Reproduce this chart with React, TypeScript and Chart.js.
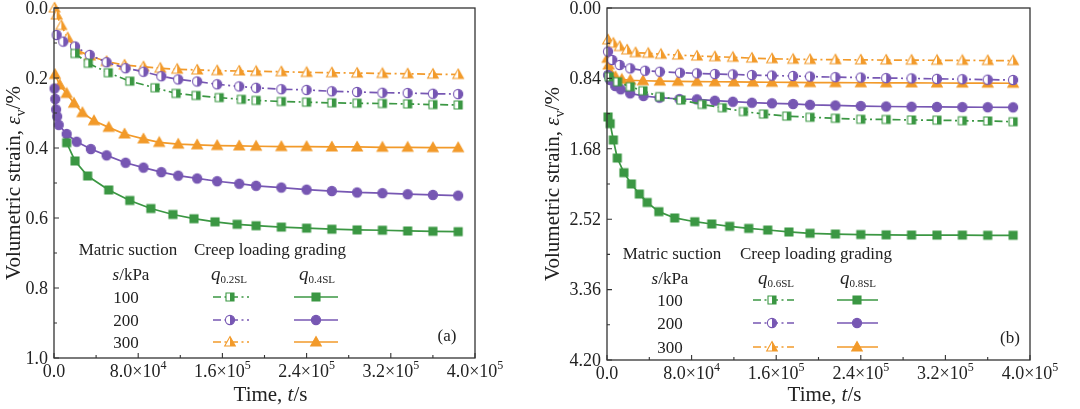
import React, { useEffect, useRef } from "react";
import { Chart, registerables } from "chart.js";
Chart.register(...registerables);

const FONT = '"Liberation Serif", "Times New Roman", serif';
const GREEN = "#3b9743";
const PURPLE = "#7757b3";
const ORANGE = "#f29a2a";
const INK = "#222";

// ---------- Panel (a) data ----------
const aTime_q02_100 = [20000, 32600, 51600, 72000, 96000, 116000, 135000, 157000, 178000, 192000, 216000, 240000, 264000, 288000, 312000, 336000, 360000, 384000];
const aStrain_q02_100 = [0.13, 0.158, 0.185, 0.209, 0.228, 0.244, 0.25, 0.256, 0.261, 0.264, 0.267, 0.269, 0.271, 0.272, 0.273, 0.274, 0.276, 0.277];
const aTime_q02_200 = [2500, 8800, 20000, 34000, 50000, 68000, 85000, 102000, 118000, 136000, 155000, 176000, 192000, 216000, 240000, 264000, 288000, 312000, 336000, 360000, 384000];
const aStrain_q02_200 = [0.077, 0.096, 0.11, 0.134, 0.155, 0.172, 0.182, 0.195, 0.204, 0.21, 0.218, 0.224, 0.228, 0.232, 0.234, 0.238, 0.24, 0.242, 0.243, 0.245, 0.246];
const aTime_q02_300 = [500, 2500, 7000, 13000, 21500, 34000, 50000, 67000, 85000, 101000, 117000, 136000, 155000, 176000, 192000, 216000, 240000, 264000, 288000, 312000, 336000, 360000, 384000];
const aStrain_q02_300 = [0.0, 0.02, 0.05, 0.085, 0.12, 0.137, 0.153, 0.163, 0.168, 0.172, 0.175, 0.177, 0.179, 0.18, 0.181, 0.182, 0.184, 0.185, 0.186, 0.187, 0.188, 0.189, 0.19];
const aTime_q04_100 = [12000, 20000, 32000, 52000, 72000, 92000, 113000, 133000, 153000, 174000, 192000, 216000, 240000, 264000, 288000, 312000, 336000, 360000, 384000];
const aStrain_q04_100 = [0.385, 0.437, 0.48, 0.52, 0.55, 0.573, 0.59, 0.602, 0.611, 0.618, 0.622, 0.626, 0.629, 0.632, 0.634, 0.635, 0.637, 0.638, 0.639];
const aTime_q04_200 = [500, 1200, 2000, 3000, 4500, 12000, 21500, 35000, 50000, 68000, 85000, 102000, 118000, 136000, 155000, 176000, 192000, 216000, 240000, 264000, 288000, 312000, 336000, 360000, 384000];
const aStrain_q04_200 = [0.23, 0.26, 0.29, 0.31, 0.334, 0.36, 0.382, 0.403, 0.421, 0.442, 0.456, 0.469, 0.479, 0.487, 0.495, 0.502, 0.508, 0.513, 0.519, 0.523, 0.527, 0.529, 0.532, 0.534, 0.536];
const aTime_q04_300 = [1000, 5500, 12000, 19000, 27000, 38000, 52000, 67000, 85000, 100000, 118000, 136000, 155000, 176000, 192000, 216000, 240000, 264000, 288000, 312000, 336000, 360000, 384000];
const aStrain_q04_300 = [0.19, 0.22, 0.244, 0.272, 0.299, 0.322, 0.341, 0.36, 0.374, 0.384, 0.389, 0.391, 0.393, 0.394, 0.395, 0.396, 0.396, 0.397, 0.397, 0.398, 0.398, 0.399, 0.399];

// ---------- Panel (b) data ----------
const bTime_q06_100 = [2000, 10000, 22000, 34000, 50000, 70000, 90000, 109000, 129000, 148000, 170000, 192000, 216000, 240000, 264000, 288000, 312000, 336000, 360000, 384000];
const bStrain_q06_100 = [0.82, 0.88, 0.939, 0.987, 1.058, 1.098, 1.15, 1.19, 1.235, 1.265, 1.29, 1.304, 1.316, 1.328, 1.33, 1.336, 1.338, 1.345, 1.348, 1.357];
const bTime_q06_200 = [1000, 5000, 12000, 22000, 36000, 50000, 69000, 85000, 102000, 119000, 137000, 156000, 176000, 192000, 216000, 240000, 264000, 288000, 312000, 336000, 360000, 384000];
const bStrain_q06_200 = [0.52, 0.62, 0.68, 0.72, 0.748, 0.76, 0.772, 0.78, 0.788, 0.792, 0.8, 0.806, 0.811, 0.818, 0.825, 0.83, 0.836, 0.84, 0.845, 0.85, 0.855, 0.859];
const bTime_q06_300 = [1000, 6000, 12000, 19000, 27000, 39000, 51000, 67000, 85000, 102000, 119000, 137000, 156000, 176000, 192000, 216000, 240000, 264000, 288000, 312000, 336000, 360000, 384000];
const bStrain_q06_300 = [0.38, 0.42, 0.46, 0.5, 0.533, 0.54, 0.552, 0.561, 0.573, 0.581, 0.588, 0.598, 0.605, 0.612, 0.615, 0.617, 0.619, 0.621, 0.622, 0.624, 0.625, 0.627, 0.628];
const bTime_q08_100 = [1000, 3000, 6000, 9700, 16000, 23000, 30600, 38000, 49000, 64000, 83000, 99000, 116000, 134000, 152000, 172000, 192000, 216000, 240000, 264000, 288000, 312000, 336000, 360000, 384000];
const bStrain_q08_100 = [1.3, 1.38, 1.575, 1.79, 1.965, 2.1, 2.22, 2.32, 2.43, 2.505, 2.55, 2.577, 2.605, 2.63, 2.649, 2.672, 2.688, 2.697, 2.703, 2.707, 2.709, 2.71, 2.71, 2.712, 2.712];
const bTime_q08_200 = [1000, 3000, 7700, 13000, 21900, 34500, 49600, 68500, 85000, 102000, 119000, 137000, 156000, 176000, 192000, 216000, 240000, 264000, 288000, 312000, 336000, 360000, 384000];
const bStrain_q08_200 = [0.8, 0.859, 0.93, 0.97, 1.018, 1.05, 1.07, 1.086, 1.09, 1.106, 1.118, 1.13, 1.137, 1.145, 1.155, 1.163, 1.17, 1.175, 1.178, 1.18, 1.182, 1.184, 1.185];
const bTime_q08_300 = [500, 1500, 3000, 8000, 14000, 22000, 34000, 50000, 67000, 85000, 102000, 120000, 138000, 156000, 176000, 192000, 216000, 240000, 264000, 288000, 312000, 336000, 360000, 384000];
const bStrain_q08_300 = [0.6, 0.68, 0.76, 0.82, 0.851, 0.862, 0.868, 0.872, 0.875, 0.878, 0.88, 0.882, 0.884, 0.886, 0.888, 0.89, 0.891, 0.892, 0.893, 0.894, 0.895, 0.896, 0.897, 0.898];

// ---------- Ticks & labels ----------
const xTicks = [0, 80000, 160000, 240000, 320000, 400000];
const xTickLabels = ["0.0", "8.0×10^4", "1.6×10^5", "2.4×10^5", "3.2×10^5", "4.0×10^5"];
const aYTicks = [0, 0.2, 0.4, 0.6, 0.8, 1.0];
const aYTickLabels = ["0.0", "0.2", "0.4", "0.6", "0.8", "1.0"];
const bYTicks = [0, 0.84, 1.68, 2.52, 3.36, 4.2];
const bYTickLabels = ["0.00", "0.84", "1.68", "2.52", "3.36", "4.20"];
const suctionLabels = ["100", "200", "300"];
const aGradeLabels = ["0.2SL", "0.4SL"];
const bGradeLabels = ["0.6SL", "0.8SL"];

type Shape = "square" | "circle" | "triangle";
type Seg = { t: string; size: number; italic?: boolean; dy?: number };

function makeMarker(shape: Shape, color: string, half: boolean): HTMLCanvasElement {
  const size = 14;
  const c = document.createElement("canvas");
  c.width = size;
  c.height = size;
  const ctx = c.getContext("2d")!;
  const path = () => {
    ctx.beginPath();
    if (shape === "square") ctx.rect(3, 3, 8, 8);
    else if (shape === "circle") ctx.arc(7, 7, 4.6, 0, Math.PI * 2);
    else {
      ctx.moveTo(7, 1.6);
      ctx.lineTo(12.3, 11);
      ctx.lineTo(1.7, 11);
      ctx.closePath();
    }
  };
  if (half) {
    path();
    ctx.fillStyle = "#fff";
    ctx.fill();
    ctx.save();
    ctx.beginPath();
    ctx.rect(7, 0, 7, 14);
    ctx.clip();
    path();
    ctx.fillStyle = color;
    ctx.fill();
    ctx.restore();
  } else {
    path();
    ctx.fillStyle = color;
    ctx.fill();
  }
  path();
  ctx.strokeStyle = color;
  ctx.lineWidth = 1.1;
  ctx.stroke();
  return c;
}

function segFont(s: Seg) {
  return `${s.italic ? "italic " : ""}${s.size}px ${FONT}`;
}

function drawRich(ctx: CanvasRenderingContext2D, segs: Seg[], x: number, y: number, rotate = 0) {
  ctx.save();
  ctx.translate(x, y);
  if (rotate) ctx.rotate(rotate);
  ctx.textAlign = "left";
  ctx.textBaseline = "alphabetic";
  ctx.fillStyle = INK;
  let total = 0;
  const widths = segs.map((s) => {
    ctx.font = segFont(s);
    const w = ctx.measureText(s.t).width;
    total += w;
    return w;
  });
  let cx = -total / 2;
  segs.forEach((s, i) => {
    ctx.font = segFont(s);
    ctx.fillText(s.t, cx, s.dy || 0);
    cx += widths[i];
  });
  ctx.restore();
}

type SeriesDef = { time: number[]; strain: number[]; color: string; shape: Shape; dashed: boolean };

type PanelCfg = {
  series: SeriesDef[];
  yMax: number;
  yTicks: number[];
  yTickLabels: string[];
  grades: string[];
  padRight: number;
  yWidth: number;
  xHeight: number;
  L: {
    matric: number; creep: number; skpa: number; num: number; q1: number; q2: number;
    dash: [number, number]; dashMarker: number; solid: [number, number]; solidMarker: number;
    headerY: number; subY: number; rowsY: number[]; tag: string; tagX: number; tagY: number;
    yTitleX: number;
  };
};

const DASH = [8, 3.5, 2, 3.5];

const panelA: PanelCfg = {
  series: [
    { time: aTime_q02_100, strain: aStrain_q02_100, color: GREEN, shape: "square", dashed: true },
    { time: aTime_q02_200, strain: aStrain_q02_200, color: PURPLE, shape: "circle", dashed: true },
    { time: aTime_q02_300, strain: aStrain_q02_300, color: ORANGE, shape: "triangle", dashed: true },
    { time: aTime_q04_100, strain: aStrain_q04_100, color: GREEN, shape: "square", dashed: false },
    { time: aTime_q04_200, strain: aStrain_q04_200, color: PURPLE, shape: "circle", dashed: false },
    { time: aTime_q04_300, strain: aStrain_q04_300, color: ORANGE, shape: "triangle", dashed: false },
  ],
  yMax: 1.0,
  yTicks: aYTicks,
  yTickLabels: aYTickLabels,
  grades: aGradeLabels,
  padRight: 65,
  yWidth: 54,
  xHeight: 51,
  L: {
    matric: 128, creep: 270, skpa: 131, num: 126, q1: 229, q2: 317,
    dash: [213, 249], dashMarker: 230, solid: [294, 338], solidMarker: 316,
    headerY: 255, subY: 280, rowsY: [303, 326, 348], tag: "(a)", tagX: 447, tagY: 341,
    yTitleX: 20,
  },
};

const panelB: PanelCfg = {
  series: [
    { time: bTime_q06_100, strain: bStrain_q06_100, color: GREEN, shape: "square", dashed: true },
    { time: bTime_q06_200, strain: bStrain_q06_200, color: PURPLE, shape: "circle", dashed: true },
    { time: bTime_q06_300, strain: bStrain_q06_300, color: ORANGE, shape: "triangle", dashed: true },
    { time: bTime_q08_100, strain: bStrain_q08_100, color: GREEN, shape: "square", dashed: false },
    { time: bTime_q08_200, strain: bStrain_q08_200, color: PURPLE, shape: "circle", dashed: false },
    { time: bTime_q08_300, strain: bStrain_q08_300, color: ORANGE, shape: "triangle", dashed: false },
  ],
  yMax: 4.2,
  yTicks: bYTicks,
  yTickLabels: bYTickLabels,
  grades: bGradeLabels,
  padRight: 50,
  yWidth: 67,
  xHeight: 49,
  L: {
    matric: 132, creep: 276, skpa: 130, num: 130, q1: 236, q2: 318,
    dash: [213, 254], dashMarker: 232, solid: [297, 338], solidMarker: 317,
    headerY: 259, subY: 284, rowsY: [306, 329, 353], tag: "(b)", tagX: 470, tagY: 343,
    yTitleX: 19,
  },
};

function makeDecor(cfg: PanelCfg, markers: HTMLCanvasElement[]) {
  return {
    id: "decor",
    afterDraw(chart: any) {
      const ctx: CanvasRenderingContext2D = chart.ctx;
      const { left, right, top, bottom } = chart.chartArea;
      const xs = chart.scales.x;
      const ys = chart.scales.y;
      ctx.save();
      // frame
      ctx.strokeStyle = "#333";
      ctx.lineWidth = 1.3;
      ctx.strokeRect(left, top, right - left, bottom - top);
      // ticks (inward)
      ctx.lineWidth = 1.1;
      ctx.beginPath();
      xTicks.forEach((v, i) => {
        const px = xs.getPixelForValue(v);
        ctx.moveTo(px, bottom);
        ctx.lineTo(px, bottom - 5);
        if (i < xTicks.length - 1) {
          const mx = xs.getPixelForValue((v + xTicks[i + 1]) / 2);
          ctx.moveTo(mx, bottom);
          ctx.lineTo(mx, bottom - 3);
        }
      });
      cfg.yTicks.forEach((v, i) => {
        const py = ys.getPixelForValue(v);
        ctx.moveTo(left, py);
        ctx.lineTo(left + 5, py);
        if (i < cfg.yTicks.length - 1) {
          const my = ys.getPixelForValue((v + cfg.yTicks[i + 1]) / 2);
          ctx.moveTo(left, my);
          ctx.lineTo(left + 3, my);
        }
      });
      ctx.stroke();

      // y tick labels
      ctx.fillStyle = INK;
      ctx.font = `18px ${FONT}`;
      ctx.textAlign = "right";
      ctx.textBaseline = "middle";
      cfg.yTicks.forEach((v, i) => {
        ctx.fillText(cfg.yTickLabels[i], left - 6, ys.getPixelForValue(v) + 1);
      });

      // x tick labels with superscripts
      xTicks.forEach((v, i) => {
        const [base, exp] = xTickLabels[i].split("^");
        const segs: Seg[] = [{ t: base, size: 18 }];
        if (exp) segs.push({ t: exp, size: 12, dy: -8 });
        drawRich(ctx, segs, xs.getPixelForValue(v), bottom + 19);
      });

      // axis titles
      drawRich(
        ctx,
        [
          { t: "Time, ", size: 21 },
          { t: "t", size: 21, italic: true },
          { t: "/s", size: 21 },
        ],
        (left + right) / 2 + 6,
        401
      );
      drawRich(
        ctx,
        [
          { t: "Volumetric strain, ", size: 21 },
          { t: "ε", size: 21, italic: true },
          { t: "v", size: 14, dy: 5 },
          { t: "/%", size: 21 },
        ],
        cfg.L.yTitleX,
        (top + bottom) / 2,
        -Math.PI / 2
      );

      // legend block
      const L = cfg.L;
      drawRich(ctx, [{ t: "Matric suction", size: 17 }], L.matric, L.headerY);
      drawRich(ctx, [{ t: "Creep loading grading", size: 17 }], L.creep, L.headerY);
      drawRich(ctx, [{ t: "s", size: 17, italic: true }, { t: "/kPa", size: 17 }], L.skpa, L.subY);
      drawRich(ctx, [{ t: "q", size: 19, italic: true }, { t: cfg.grades[0], size: 11, dy: 3 }], L.q1, L.subY);
      drawRich(ctx, [{ t: "q", size: 19, italic: true }, { t: cfg.grades[1], size: 11, dy: 3 }], L.q2, L.subY);
      const colors = [GREEN, PURPLE, ORANGE];
      suctionLabels.forEach((lab, r) => {
        const by = L.rowsY[r];
        drawRich(ctx, [{ t: lab, size: 17 }], L.num, by);
        const cy = by - 6;
        ctx.save();
        ctx.strokeStyle = colors[r];
        ctx.lineWidth = 1.7;
        ctx.setLineDash(DASH);
        ctx.beginPath();
        ctx.moveTo(L.dash[0], cy);
        ctx.lineTo(L.dash[1], cy);
        ctx.stroke();
        ctx.setLineDash([]);
        ctx.beginPath();
        ctx.moveTo(L.solid[0], cy);
        ctx.lineTo(L.solid[1], cy);
        ctx.stroke();
        ctx.restore();
        const mh = markers[r];
        const ms = markers[r + 3];
        ctx.drawImage(mh, L.dashMarker - mh.width / 2, cy - mh.height / 2);
        ctx.drawImage(ms, L.solidMarker - ms.width / 2, cy - ms.height / 2);
      });
      drawRich(ctx, [{ t: L.tag, size: 17 }], L.tagX, L.tagY);
      ctx.restore();
    },
  };
}

function Panel({ cfg }: { cfg: PanelCfg }) {
  const ref = useRef<HTMLCanvasElement>(null);
  useEffect(() => {
    const markers = cfg.series.map((s) => makeMarker(s.shape, s.color, s.dashed));
    const datasets = cfg.series.map((s, i) => ({
      data: s.time.map((t, k) => ({ x: t, y: s.strain[k] })),
      borderColor: s.color,
      backgroundColor: s.color,
      borderWidth: 1.7,
      borderDash: s.dashed ? DASH : [],
      pointStyle: markers[i],
      pointRadius: 5,
      pointHoverRadius: 5,
      fill: false,
      tension: 0,
      clip: false as any,
    }));
    const chart = new Chart(ref.current!, {
      type: "line",
      data: { datasets },
      options: {
        responsive: false,
        animation: false,
        events: [],
        layout: { padding: { left: 0, right: cfg.padRight, top: 8, bottom: 0 } },
        plugins: { legend: { display: false }, tooltip: { enabled: false } },
        scales: {
          x: {
            type: "linear",
            min: 0,
            max: 400000,
            ticks: { display: false },
            grid: { display: false, drawTicks: false },
            border: { display: false },
            afterFit: (s: any) => {
              s.height = cfg.xHeight;
            },
          },
          y: {
            type: "linear",
            min: 0,
            max: cfg.yMax,
            reverse: true,
            ticks: { display: false },
            grid: { display: false, drawTicks: false },
            border: { display: false },
            afterFit: (s: any) => {
              s.width = cfg.yWidth;
            },
          },
        },
      } as any,
      plugins: [makeDecor(cfg, markers) as any],
    });
    return () => chart.destroy();
  }, [cfg]);
  return <canvas ref={ref} width={540} height={409} style={{ display: "block", width: 540, height: 409 }} />;
}

export default function App() {
  return (
    <div style={{ position: "absolute", left: 0, top: 0, width: 1080, height: 409, display: "flex", background: "#fff" }}>
      <Panel cfg={panelA} />
      <Panel cfg={panelB} />
    </div>
  );
}
